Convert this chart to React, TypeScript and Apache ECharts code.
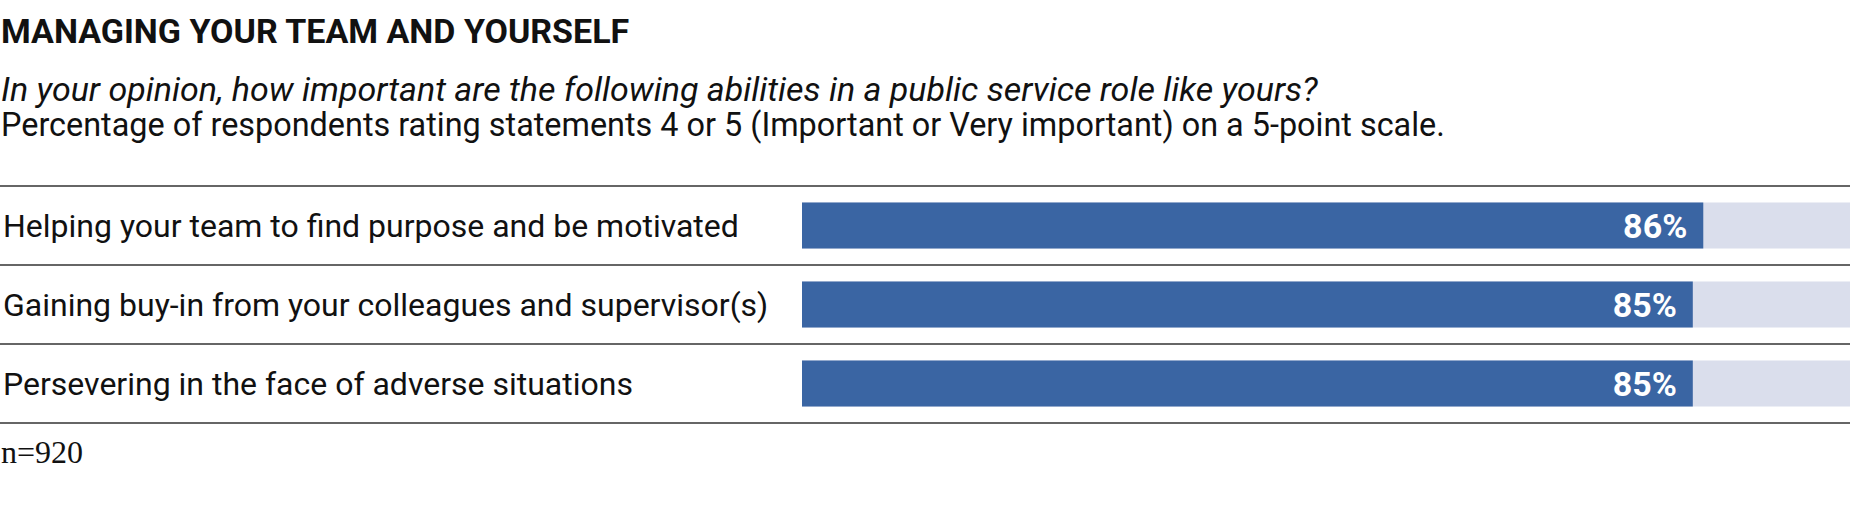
import React, { useEffect, useRef } from "react";
import * as echarts from "echarts";

const categories = [
  "Helping your team to find purpose and be motivated",
  "Gaining buy-in from your colleagues and supervisor(s)",
  "Persevering in the face of adverse situations",
];
const values = [86, 85, 85];
const titleText = "MANAGING YOUR TEAM AND YOURSELF";
const questionText =
  "In your opinion, how important are the following abilities in a public service role like yours?";
const descriptionText =
  "Percentage of respondents rating statements 4 or 5 (Important or Very important) on a 5-point scale.";
const noteText = "n=920";

const W = 1850;
const H = 516;
const GRID_LEFT = 800;
const GRID_TOP = 186;
const ROW_H = 79;

export default function App() {
  const ref = useRef<HTMLDivElement>(null);
  useEffect(() => {
    const chart = echarts.init(ref.current!, null, { renderer: "svg" });
    const lines: any[] = [];
    for (let i = 0; i <= categories.length; i++) {
      const y = GRID_TOP + i * ROW_H;
      lines.push({
        type: "line",
        shape: { x1: 0, y1: y, x2: W, y2: y },
        style: { stroke: "#333", lineWidth: 1.5 },
        silent: true,
      });
    }
    chart.setOption({
      animation: false,
      grid: {
        left: GRID_LEFT,
        right: 0,
        top: GRID_TOP,
        height: ROW_H * categories.length,
      },
      xAxis: { type: "value", min: 0, max: 100, show: false },
      yAxis: {
        type: "category",
        data: categories,
        inverse: true,
        axisLine: { show: false },
        axisTick: { show: false },
        splitLine: { show: false },
        axisLabel: {
          align: "left",
          margin: GRID_LEFT - 1,
          fontFamily: "Roboto",
          fontSize: 32,
          color: "#111",
        },
      },
      series: [
        {
          type: "bar",
          data: values,
          barWidth: 46,
          itemStyle: { color: "#3a65a3" },
          showBackground: true,
          backgroundStyle: { color: "#dadeec" },
          label: {
            show: true,
            position: "insideRight",
            distance: 16,
            formatter: "{c}%",
            color: "#fff",
            fontFamily: "Roboto",
            fontWeight: "bold",
            fontSize: 34,
          },
        },
      ],
      graphic: [
        ...lines,
        {
          type: "text",
          x: 1,
          y: 31,
          style: {
            text: titleText,
            fontFamily: "Roboto",
            fontWeight: "bold",
            fontSize: 34,
            fill: "#111",
            verticalAlign: "middle",
          },
        },
        {
          type: "text",
          x: 1,
          y: 89,
          style: {
            text: questionText,
            fontFamily: "Roboto",
            fontStyle: "italic",
            fontSize: 34,
            lineHeight: 32,
            fill: "#111",
            verticalAlign: "middle",
          },
        },
        {
          type: "text",
          x: 1,
          y: 125,
          style: {
            text: descriptionText,
            fontFamily: "Roboto",
            fontSize: 32.4,
            lineHeight: 32,
            fill: "#111",
            verticalAlign: "middle",
          },
        },
        {
          type: "text",
          x: 1,
          y: 452,
          style: {
            text: noteText,
            fontFamily: "Liberation Serif",
            fontSize: 32,
            fill: "#111",
            verticalAlign: "middle",
          },
        },
      ],
    });
    return () => chart.dispose();
  }, []);
  return (
    <div
      ref={ref}
      style={{ position: "absolute", left: 0, top: 0, width: W, height: H }}
    />
  );
}
